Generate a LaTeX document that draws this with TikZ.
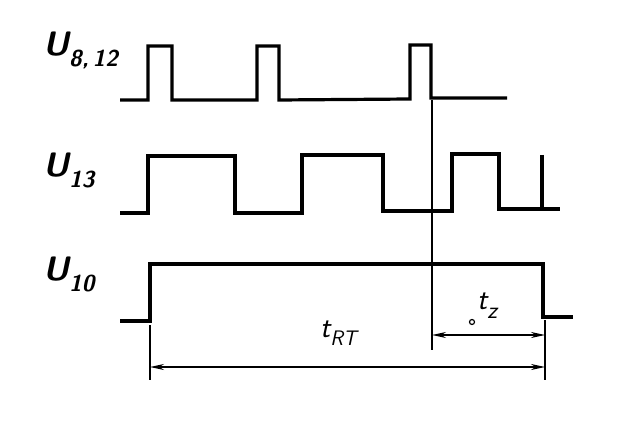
\documentclass[tikz,border=0pt]{standalone}
\usetikzlibrary{arrows.meta}
\newcommand\sublbl[2]{#1\raisebox{-0.32em}{\fontsize{23}{23}\selectfont #2}}
\begin{document}
\begin{tikzpicture}[x=1pt,y=-1pt,
  wave/.style={line width=3.2pt,line join=miter},
  thin/.style={line width=1.5pt},
  dim/.style={line width=1.5pt,{Stealth[length=14pt,width=6pt]}-{Stealth[length=14pt,width=6pt]}},
  lbl/.style={font=\fontsize{34}{34}\selectfont\sffamily\bfseries\itshape,inner sep=0pt,anchor=base west},
  tlbl/.style={font=\fontsize{30}{30}\selectfont\sffamily\itshape,inner sep=0pt,anchor=base west}]
\useasboundingbox (0,0) rectangle (637,438);
% labels
\node[lbl] (u812) at (43,56) {\sublbl{U}{8,\,12}};
\node[lbl] (u13) at (43,177) {\sublbl{U}{13}};
\node[lbl] (u10) at (43,281) {\sublbl{U}{10}};
% waveforms
\draw[wave] (120,100) -- (148,100) -- (148,46) -- (172,46) -- (172,100) -- (257,100) -- (257,46) -- (279,46) -- (279,100) -- (410,99) -- (410,45) -- (431,45) -- (431,98) -- (507,98);
\draw[wave] (120,213) -- (148,213) -- (148,156) -- (235,156) -- (235,213) -- (302,213) -- (302,155) -- (383,155) -- (383,211) -- (452,211) -- (452,154) -- (499,154) -- (499,209) -- (560,209);
\draw[wave] (542,155) -- (542,207);
\draw[wave] (120,321) -- (150,321) -- (150,264) -- (543,264) -- (543,317) -- (573,317);
% dimension lines
\coordinate (vtop) at (432,100);
\coordinate (vbot) at (432,350);
\coordinate (la) at (150,325);
\coordinate (lb) at (150,380);
\coordinate (ra) at (545,320);
\coordinate (rb) at (545,380);
\coordinate (rtl) at (150,367);
\coordinate (rtr) at (545,367);
\coordinate (tzl) at (432,335);
\coordinate (tzr) at (545,335);
\draw[thin] (vtop) -- (vbot);
\draw[thin] (la) -- (lb);
\draw[thin] (ra) -- (rb);
\draw[dim] (rtl) -- (rtr);
\draw[dim] (tzl) -- (tzr);
\node[tlbl] (trt) at (320,337) {t\raisebox{-0.3em}{\fontsize{21}{21}\selectfont RT}};
\node[tlbl] (tz) at (477,309) {t\raisebox{-0.3em}{\fontsize{24}{24}\selectfont z}};
\draw[line width=1.2pt] (472,322) circle (2.5);
\end{tikzpicture}
\end{document}
